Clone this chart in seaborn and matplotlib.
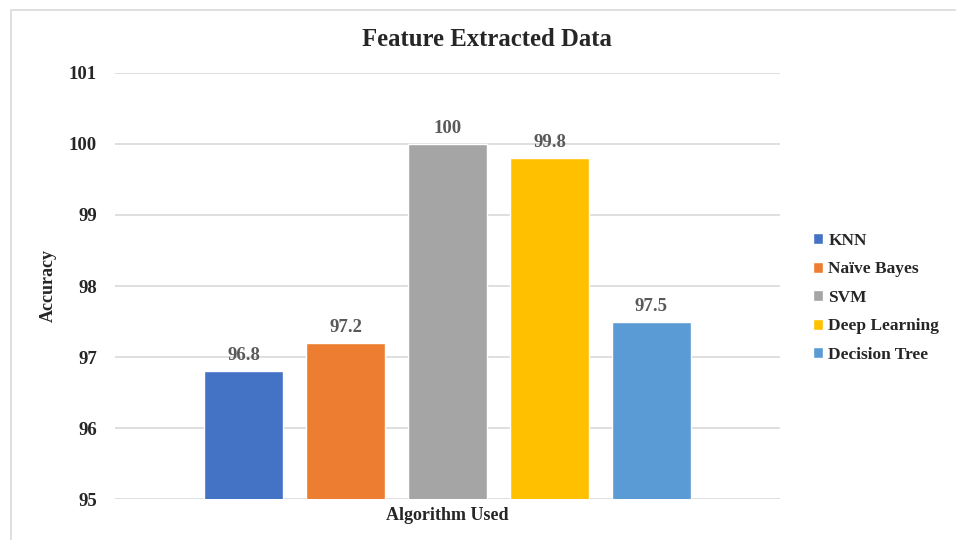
import matplotlib
matplotlib.use("Agg")
import matplotlib.pyplot as plt
import seaborn as sns
import pandas as pd
from matplotlib.patches import Rectangle

# Data
algorithms = ['KNN', 'Naïve Bayes', 'SVM', 'Deep Learning', 'Decision Tree']
accuracy = [96.8, 97.2, 100, 99.8, 97.5]
colors = ['#4472C4', '#ED7D31', '#A5A5A5', '#FFC000', '#5B9BD5']
y_ticks = [95, 96, 97, 98, 99, 100, 101]

df = pd.DataFrame({'algorithm': algorithms, 'accuracy': accuracy})

sns.set_style('white')
plt.rcParams['font.family'] = ['Liberation Serif', 'DejaVu Serif']
plt.rcParams['font.weight'] = 'bold'

fig = plt.figure(figsize=(9.56, 5.4), dpi=100)
ax = fig.add_axes([115 / 956, 1 - 499.3 / 540, 665 / 956, 426.6 / 540])

sns.barplot(
    data=df,
    x='algorithm',
    y='accuracy',
    hue='algorithm',
    palette=colors,
    saturation=1,
    width=0.784,
    legend=True,
    ax=ax,
    zorder=3,
)

ax.set_ylim(95, 101)
ax.set_yticks(y_ticks)
ax.set_yticklabels([str(t) for t in y_ticks], fontsize=13.5, fontweight='bold')
ax.set_xlim(-1.26, 5.26)
ax.set_xticks([])
ax.tick_params(axis='y', length=0, pad=13)
ax.grid(axis='y', color='#D9D9D9', linewidth=1.2, zorder=0)
ax.set_axisbelow(True)
for s in ax.spines.values():
    s.set_visible(False)

ax.set_ylabel('Accuracy', fontsize=13, fontweight='bold')
ax.yaxis.set_label_coords(-0.088, 0.5)
ax.set_xlabel('Algorithm Used', fontsize=13, fontweight='bold')
ax.xaxis.set_label_coords(0.5, -0.018)

for cont in ax.containers:
    ax.bar_label(cont, fmt='%g', padding=5, fontsize=13.5, fontweight='bold', color='#595959')

fig.text(487 / 956, 1 - 40 / 540, 'Feature Extracted Data', ha='center', va='center',
         fontsize=17.8, fontweight='bold')

handles, labels = ax.get_legend_handles_labels()
ax.legend(handles, labels, loc='center left', bbox_to_anchor=(797 / 956, 1 - 298 / 540),
          bbox_transform=fig.transFigure, frameon=False,
          handlelength=0.6, handleheight=0.6, handletextpad=0.3, labelspacing=0.72,
          prop={'weight': 'bold', 'size': 12.5})

fig.patches.append(Rectangle((10.5 / 956, -0.1), 1.2, 1.1 - 10.5 / 540,
                             transform=fig.transFigure, fill=False,
                             edgecolor='#D9D9D9', linewidth=1.2))

fig.savefig('out.png', dpi=100)
